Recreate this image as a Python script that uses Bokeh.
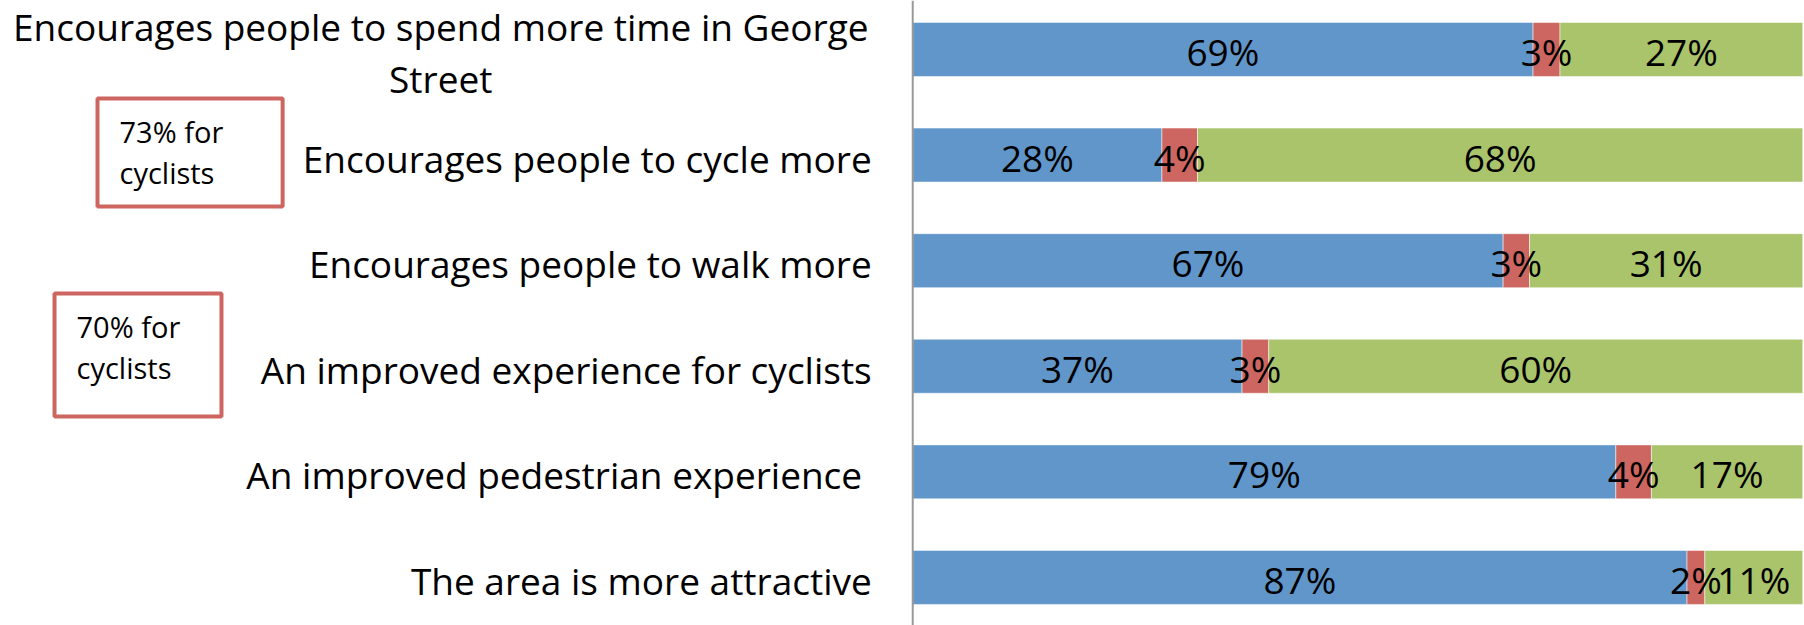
from bokeh.plotting import figure
from bokeh.models import ColumnDataSource, Range1d, Span, BoxAnnotation
from bokeh.core.properties import value
from bokeh.embed import file_html
from bokeh.resources import INLINE

# ---- data (top to bottom) ----
categories = [
    "Encourages people to spend more time in George Street",
    "Encourages people to cycle more",
    "Encourages people to walk more",
    "An improved experience for cyclists",
    "An improved pedestrian experience ",
    "The area is more attractive",
]
wrapped = {"Encourages people to spend more time in George Street":
           ["Encourages people to spend more time in George", "Street"]}
series_names = ["Agree", "Disagree", "Neither"]
agree = [69, 28, 67, 37, 79, 87]
disagree = [3, 4, 3, 3, 4, 2]
neither = [27, 68, 31, 60, 17, 11]
series_values = [agree, disagree, neither]
series_colors = ["#6096C9", "#CD6660", "#AAC46C"]

notes = ["73% for\ncyclists", "70% for\ncyclists"]
note_boxes = [(-91.6, -70.8, 4.536, 3.513), (-96.43, -77.67, 2.690, 1.525)]

FONT = "Open Sans"
n = len(categories)
ypos = [n - 1 - i for i in range(n)]
totals = [sum(s[i] for s in series_values) for i in range(n)]

p = figure(width=1804, height=625, output_backend="svg", toolbar_location=None,
           x_range=Range1d(-102.5, 100.2), y_range=Range1d(-0.455, 5.464),
           min_border=0, min_border_left=0, min_border_right=0,
           min_border_top=0, min_border_bottom=0)
p.xaxis.visible = False
p.yaxis.visible = False
p.xgrid.visible = False
p.ygrid.visible = False
p.outline_line_color = None
p.background_fill_color = "white"
p.border_fill_color = "white"

# 100% stacked bars (each row normalised to its total)
left = [0.0] * n
lab_x, lab_y, lab_t = [], [], []
for name, vals, col in zip(series_names, series_values, series_colors):
    right = [l + v * 100.0 / tot for l, v, tot in zip(left, vals, totals)]
    src = ColumnDataSource(dict(y=ypos, left=left, right=right))
    p.hbar(y="y", left="left", right="right", height=0.511, source=src,
           fill_color=col, line_color="#FFFFFF", line_alpha=0.5, line_width=1)
    for i in range(n):
        lab_x.append((left[i] + right[i]) / 2)
        lab_y.append(ypos[i])
        lab_t.append(f"{vals[i]}%")
    left = right

p.text(x=lab_x, y=lab_y, text=lab_t, text_font=value(FONT),
       text_font_size="37px", text_align="center", text_baseline="middle",
       text_color="black", y_offset=2)

# axis line
p.add_layout(Span(location=0, dimension="height", line_color="#999999", line_width=2))

# category labels
ct, cy, cxo, cyo, ca = [], [], [], [], []
for cat, yv in zip(categories, ypos):
    lines = wrapped.get(cat, [cat])
    k = len(lines)
    for j, ln in enumerate(lines):
        ct.append(ln)
        cy.append(yv)
        cyo.append((j - (k - 1) / 2) * 52 + 3)
        if k > 1:
            cxo.append(-472)
            ca.append("center")
        else:
            cxo.append(-41)
            ca.append("right")
csrc = ColumnDataSource(dict(x=[0] * len(ct), y=cy, text=ct, xo=cxo, yo=cyo, align=ca))
p.text(x="x", y="y", text="text", x_offset="xo", y_offset="yo", text_align="align",
       source=csrc, text_font=value(FONT), text_font_size="37px",
       text_baseline="middle", text_color="black")

# note boxes
for note, (l, r, t, b) in zip(notes, note_boxes):
    p.add_layout(BoxAnnotation(left=l, right=r, top=t, bottom=b, fill_alpha=0,
                               line_color="#CD6660", line_alpha=1.0, line_width=4))
    for j, ln in enumerate(note.split("\n")):
        p.text(x=[l], y=[t], text=[ln], x_offset=22, y_offset=33 + 41 * j,
               text_font=value(FONT), text_font_size="29px", text_align="left",
               text_baseline="alphabetic", text_color="black")

open("out.html", "w").write(file_html(p, INLINE))
